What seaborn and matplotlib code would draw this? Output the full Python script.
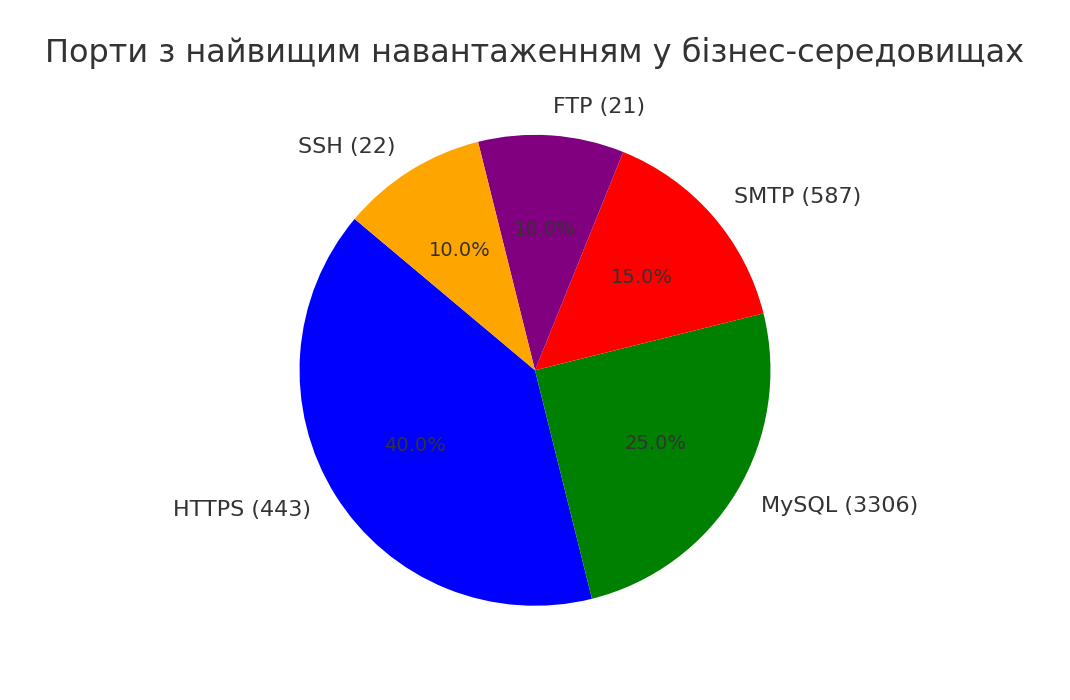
import matplotlib.pyplot as plt
import seaborn as sns

sns.set_theme(style="white")
plt.rcParams['font.family'] = ['DejaVu Sans']
plt.rcParams['text.color'] = '#333333'

labels = ['HTTPS (443)', 'MySQL (3306)', 'SMTP (587)', 'FTP (21)', 'SSH (22)']
shares = [40, 25, 15, 10, 10]
colors = ['blue', 'green', 'red', 'purple', 'orange']

fig, ax = plt.subplots(figsize=(10.7, 7), dpi=100)
ax.pie(shares, labels=labels, colors=colors, autopct='%1.1f%%', startangle=140,
       wedgeprops={'linewidth': 0}, labeldistance=1.12,
       textprops={'fontsize': 16, 'color': '#333333'})
for t in ax.texts:
    if t.get_text().endswith('%'):
        t.set_fontsize(14)
fig.suptitle('Порти з найвищим навантаженням у бізнес-середовищах', fontsize=23,
             color='#333333', y=0.925, va='center')
ax.axis('equal')
plt.subplots_adjust(left=0.05, right=0.95, top=0.841, bottom=0.101)
plt.savefig('out.png', dpi=100)
